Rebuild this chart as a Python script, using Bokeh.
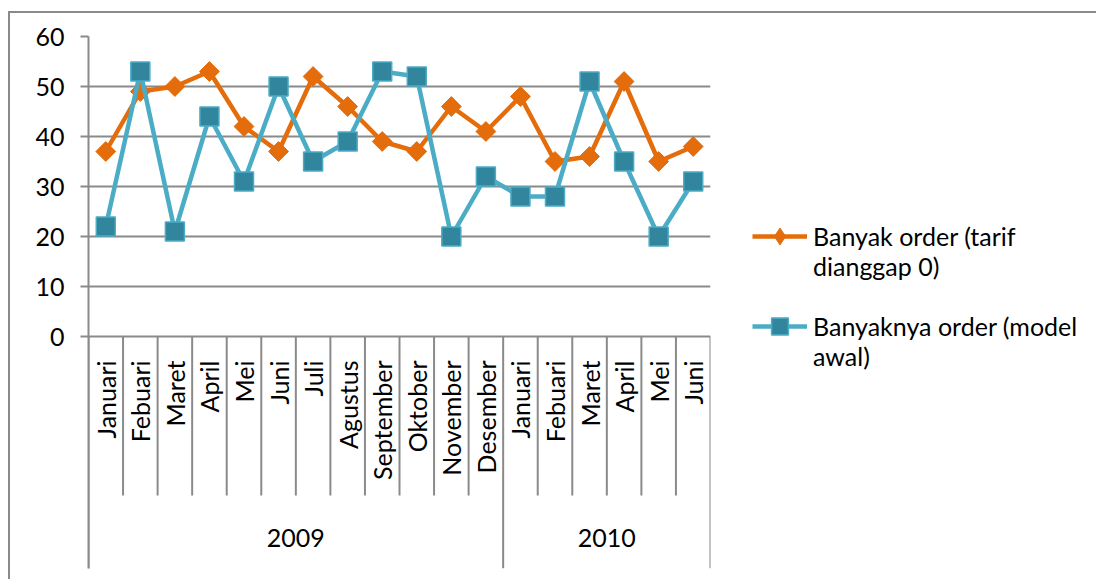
import numpy as np
from bokeh.plotting import figure
from bokeh.models import (Range1d, FixedTicker, Legend, LegendItem,
                          ColumnDataSource)
from bokeh.core.properties import value
from bokeh.embed import file_html
from bokeh.resources import INLINE

# Monthly order counts, January 2009 - June 2010
months = ["Januari", "Febuari", "Maret", "April", "Mei", "Juni", "Juli",
          "Agustus", "September", "Oktober", "November", "Desember",
          "Januari", "Febuari", "Maret", "April", "Mei", "Juni"]
years = ["2009", "2010"]
year_sizes = [12, 6]
orders_tariff0 = [37, 49, 50, 53, 42, 37, 52, 46, 39, 37, 46, 41,
                  48, 35, 36, 51, 35, 38]
orders_initial = [22, 53, 21, 44, 31, 50, 35, 39, 53, 52, 20, 32,
                  28, 28, 51, 35, 20, 31]
y_ticks = [0, 10, 20, 30, 40, 50, 60]
# leading blank line keeps the legend glyph level with the first text line
series_names = ["\nBanyak order (tarif\ndianggap 0)",
                "\nBanyaknya order (model\nawal)"]

FONT = "Lato"
GRID = "#8a8a8a"
ORANGE = "#E46C0A"
TEAL = "#4BACC6"
TEAL_DARK = "#31859C"

n = len(months)
xc = np.arange(n) + 0.5
y_bottom = -46.4          # room below zero for the two-level category axis
sep_short = -31.8         # month separators
p = figure(frame_width=622, frame_height=532,
           x_range=Range1d(0, n), y_range=Range1d(y_bottom, 60),
           x_axis_location=None, toolbar_location=None,
           output_backend="svg",
           min_border_left=78, min_border_right=0,
           min_border_top=23, min_border_bottom=11)
p.margin = (11, 0, 0, 8)
p.styles = {"border-left": f"2px solid {GRID}", "border-top": f"2px solid {GRID}"}
p.outline_line_color = None
p.background_fill_color = "white"
p.border_fill_color = "white"

# value axis
ax = p.yaxis[0]
ax.ticker = FixedTicker(ticks=y_ticks)
ax.axis_line_color = GRID
ax.axis_line_width = 2
ax.major_tick_line_color = GRID
ax.major_tick_line_width = 2
ax.major_tick_out = 8
ax.major_tick_in = 0
ax.minor_tick_line_color = None
ax.major_label_standoff = 16
ax.major_label_text_font = FONT
ax.major_label_text_font_size = "25px"
ax.major_label_text_color = "black"

p.xgrid.visible = False
p.ygrid.ticker = FixedTicker(ticks=y_ticks)
p.ygrid.grid_line_color = GRID
p.ygrid.grid_line_width = 2

# category axis: month separators and year separators
bounds = np.arange(n + 1)
year_edges = np.concatenate([[0], np.cumsum(year_sizes)])
month_sep = [b for b in bounds if b not in year_edges]
p.segment(x0=month_sep, y0=0, x1=month_sep, y1=sep_short,
          line_color=GRID, line_width=2)
p.segment(x0=year_edges, y0=0, x1=year_edges, y1=y_bottom,
          line_color=GRID, line_width=2)

p.text(x=xc, y=-4.8, text=months, angle=np.pi / 2,
       text_align="right", text_baseline="middle",
       text_font=value(FONT), text_font_size="25px", text_color="black")
year_centers = (year_edges[:-1] + year_edges[1:]) / 2
p.text(x=year_centers, y=-40.3, text=years,
       text_align="center", text_baseline="middle",
       text_font=value(FONT), text_font_size="25px", text_color="black")

# series
src1 = ColumnDataSource(dict(x=xc, y=orders_tariff0))
src2 = ColumnDataSource(dict(x=xc, y=orders_initial))
# zero-size diamonds: invisible in the plot, used only as the legend swatch
# (the legend ignores marker angles, so the rotated squares would show upright)
m1_key = p.scatter("x", "y", source=src1, marker="diamond", size=0,
                   fill_color=ORANGE, line_color=ORANGE)
l1 = p.line("x", "y", source=src1, line_color=ORANGE, line_width=4.5)
m1 = p.scatter("x", "y", source=src1, marker="square", angle=np.pi / 4, size=14,
               fill_color=ORANGE, line_color=ORANGE)
l2 = p.line("x", "y", source=src2, line_color=TEAL, line_width=4.5)
m2 = p.scatter("x", "y", source=src2, marker="square", size=19,
               fill_color=TEAL_DARK, line_color=TEAL, line_width=1.5)

legend = Legend(items=[LegendItem(label=series_names[0], renderers=[l1, m1_key]),
                       LegendItem(label=series_names[1], renderers=[l2, m2])],
                location=(42, 197), orientation="vertical",
                glyph_width=55, glyph_height=42, label_standoff=6,
                spacing=-60, padding=0, margin=0,
                border_line_color=None, background_fill_alpha=0,
                label_text_font=FONT, label_text_font_size="25px",
                label_text_line_height=1.36, label_text_color="black")
p.add_layout(legend, "right")

open("out.html", "w").write(file_html(p, INLINE))
